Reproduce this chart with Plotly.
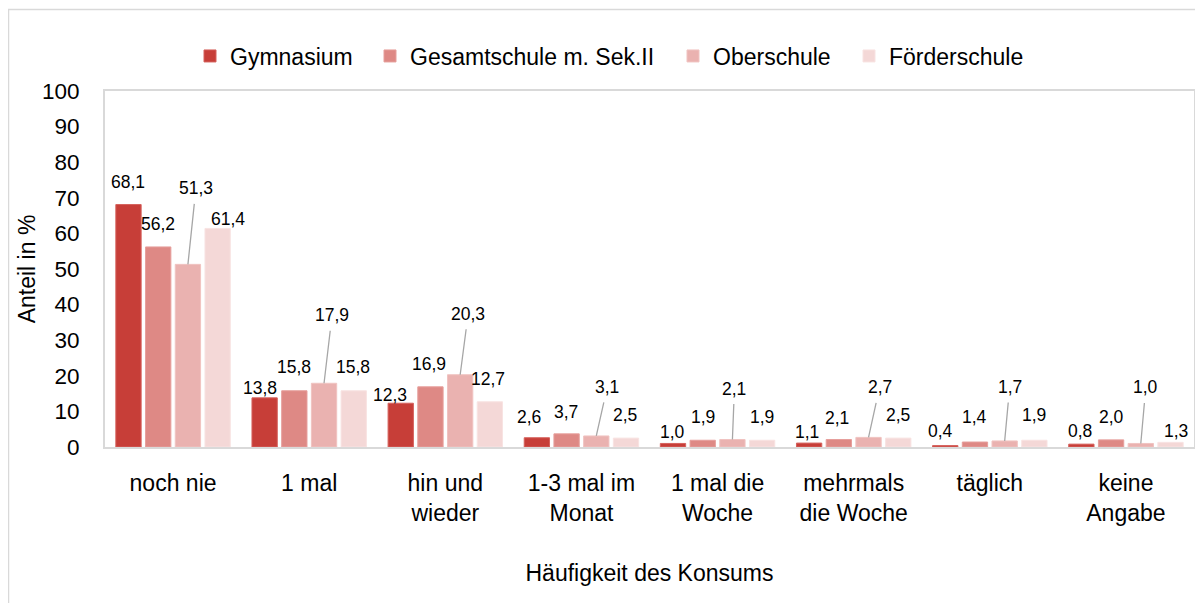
import plotly.graph_objects as go

categories = ["noch nie", "1 mal", "hin und<br>wieder", "1-3 mal im<br>Monat",
              "1 mal die<br>Woche", "mehrmals<br>die Woche", "täglich", "keine<br>Angabe"]
series_names = ["Gymnasium", "Gesamtschule m. Sek.II", "Oberschule", "Förderschule"]
gymnasium = [68.1, 13.8, 12.3, 2.6, 1.0, 1.1, 0.4, 0.8]
gesamtschule = [56.2, 15.8, 16.9, 3.7, 1.9, 2.1, 1.4, 2.0]
oberschule = [51.3, 17.9, 20.3, 3.1, 2.1, 2.7, 1.7, 1.0]
foerderschule = [61.4, 15.8, 12.7, 2.5, 1.9, 2.5, 1.9, 1.3]
y_ticks = [0, 10, 20, 30, 40, 50, 60, 70, 80, 90, 100]

series_values = [gymnasium, gesamtschule, oberschule, foerderschule]
colors = ["#C73E38", "#DE8985", "#EAB2B0", "#F4D8D7"]
edge_colors = ["#D5615C", "#E69F9C", "#F0C3C1", "#F8E3E2"]

# label offsets (px) of text centre relative to bar top centre
label_dx = [
    [-1, -5, -11, -8, -1, -2, -5, -1],
    [0, 0, -1, -1, 0, -2, 0, 0],
    [8, 8, 8, 11, 2, 11, 5, 5],
    [10, -1, -2, -1, 0, 0, 0, 5],
]
label_dy = [
    [-23, -10, -8, -21, -11, -11, -15, -13],
    [-23, -24, -23, -22, -23, -22, -25, -23],
    [-76, -68, -61, -49, -51, -50, -54, -56],
    [-9, -24, -23, -23, -23, -23, -25, -11],
]
leader = [False, False, True, False]

FONT = "Liberation Sans, Arial, sans-serif"
BARGAP = 0.127
GROUPGAP = 0.148

# plot area in page pixels (the page adds an 8px body margin)
PAGE_OFF = 8
PX_L, PX_R, PX_T, PX_B = 105, 1194, 91, 447
FIG_W, FIG_H = 1203 - PAGE_OFF, 603 - PAGE_OFF


def paper_x(px):
    return (px - PX_L) / (PX_R - PX_L)


def paper_y(py):
    return (PX_B - py) / (PX_B - PX_T)


legend_left_px = [190, 370, 673, 849]
legend_names = ["legend", "legend2", "legend3", "legend4"]

fig = go.Figure()
for name, vals, col, ecol, lg in zip(series_names, series_values, colors, edge_colors, legend_names):
    fig.add_trace(go.Bar(
        x=categories, y=vals, name=name, legend=lg, showlegend=True,
        marker=dict(color=col, line=dict(color=ecol, width=1)),
        hoverinfo="x+y+name",
    ))

slot = (1 - BARGAP) / len(series_values)
annotations = []
for j, vals in enumerate(series_values):
    off = (j - (len(series_values) - 1) / 2) * slot
    for i, v in enumerate(vals):
        txt = f"{v:.1f}".replace(".", ",")
        if leader[j]:
            annotations.append(dict(
                x=i + off, y=v, xref="x", yref="y", text=txt,
                showarrow=True, arrowhead=0, arrowwidth=1.3, arrowcolor="#A6A6A6",
                ax=label_dx[j][i], ay=label_dy[j][i], borderpad=5,
                font=dict(family=FONT, size=17.5, color="#000000"),
            ))
        else:
            annotations.append(dict(
                x=i + off, y=v, xref="x", yref="y", text=txt, showarrow=False,
                xshift=label_dx[j][i], yshift=-label_dy[j][i],
                xanchor="center", yanchor="middle",
                font=dict(family=FONT, size=17.5, color="#000000"),
            ))

legend_layouts = {}
for lg, lx in zip(legend_names, legend_left_px):
    legend_layouts[lg] = dict(
        orientation="h", x=paper_x(lx), xanchor="left", y=paper_y(56), yanchor="middle",
        font=dict(family=FONT, size=23), itemwidth=30, bgcolor="rgba(0,0,0,0)",
    )

fig.update_layout(
    width=FIG_W, height=FIG_H,
    showlegend=True,
    margin=dict(l=PX_L - PAGE_OFF, r=FIG_W - (PX_R - PAGE_OFF),
                t=PX_T - PAGE_OFF, b=FIG_H - (PX_B - PAGE_OFF), autoexpand=False),
    paper_bgcolor="white", plot_bgcolor="white",
    barmode="group", bargap=BARGAP, bargroupgap=GROUPGAP,
    font=dict(family=FONT, size=23, color="#000000"),
    annotations=annotations,
    shapes=[dict(type="rect", xref="paper", yref="paper",
                 x0=paper_x(8.5), x1=paper_x(1300), y0=paper_y(700), y1=paper_y(9.5),
                 line=dict(color="#D9D9D9", width=1.5), fillcolor="rgba(0,0,0,0)", layer="below")],
    **legend_layouts,
)
fig.update_xaxes(
    type="category", showline=True, mirror=True, linecolor="#D9D9D9", linewidth=2,
    ticks="outside", ticklen=14, tickcolor="rgba(0,0,0,0)",
    tickfont=dict(family=FONT, size=23),
    title=dict(text="Häufigkeit des Konsums", font=dict(family=FONT, size=23), standoff=40),
    showgrid=False, automargin=False,
)
fig.update_yaxes(
    range=[0, 100], tickvals=y_ticks, ticktext=[str(t) for t in y_ticks],
    showline=True, mirror=True, linecolor="#D9D9D9", linewidth=2,
    ticks="outside", ticklen=19, tickcolor="rgba(0,0,0,0)",
    tickfont=dict(family=FONT, size=22.5),
    title=dict(text="Anteil in %", font=dict(family=FONT, size=23), standoff=0),
    showgrid=False, zeroline=False, automargin=False,
)
fig.write_html("out.html")
